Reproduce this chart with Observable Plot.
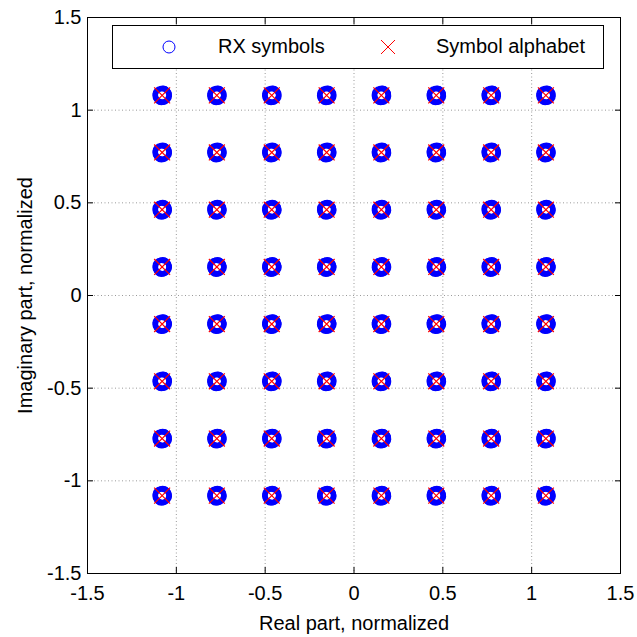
<!DOCTYPE html>
<html>
<head>
<meta charset="utf-8">
<script src="https://cdn.jsdelivr.net/npm/d3@7"></script>
<script src="https://cdn.jsdelivr.net/npm/@observablehq/plot@0.6"></script>
<style>
  body { margin: 0; background: white; }
  #wrap { position: relative; width: 637px; height: 637px; font-family: "Liberation Sans", Arial, sans-serif; }
  #legend { position: absolute; left: 112px; top: 25px; width: 490px; height: 42px; border: 1px solid black; background: white; font-size: 20px; }
  #legend span { position: absolute; top: 9px; white-space: nowrap; }
  #legend svg { position: absolute; left: 0; top: 0; }
</style>
</head>
<body>
<div id="wrap"></div>
<script>
// 64-QAM symbol alphabet levels (normalized)
const levels = [-1.080, -0.772, -0.463, -0.154, 0.154, 0.463, 0.772, 1.080];
// small receive-noise spread around each alphabet point
const rxNoiseRe = [0.000, 0.011, -0.010, 0.005, -0.007, 0.012, -0.011, 0.003, 0.008, -0.004];
const rxNoiseIm = [0.000, 0.004, 0.007, -0.010, -0.008, -0.003, -0.002, 0.011, 0.009, -0.012];
const axisTicks = [-1.5, -1, -0.5, 0, 0.5, 1, 1.5];
const gridTicks = [-1, -0.5, 0, 0.5, 1];
const legendLabels = ["RX symbols", "Symbol alphabet"];

const alphabet = [];
for (const im of levels) for (const re of levels) alphabet.push({re, im});
const rx = [];
for (const p of alphabet) rxNoiseRe.forEach((dr, i) => rx.push({re: p.re + dr, im: p.im + rxNoiseIm[i]}));

const fmt = d => String(d);
const gridStyle = {stroke: "#9a9a9a", strokeOpacity: 1, strokeDasharray: "1,2.5"};

const chart = Plot.plot({
  width: 637, height: 637,
  marginLeft: 87, marginRight: 17, marginTop: 17, marginBottom: 64,
  style: {fontFamily: "Liberation Sans, Arial, sans-serif", fontSize: "20px", background: "white", color: "black"},
  x: {domain: [-1.5, 1.5]},
  y: {domain: [-1.5, 1.5]},
  marks: [
    Plot.gridX(gridTicks, gridStyle),
    Plot.gridY(gridTicks, gridStyle),
    Plot.axisX(axisTicks, {anchor: "bottom", tickSize: 0, tickPadding: 12, tickFormat: fmt, label: "Real part, normalized", labelAnchor: "center", labelArrow: false, labelOffset: 56, fontSize: 20}),
    Plot.axisY(axisTicks, {anchor: "left", tickSize: 0, tickPadding: 6, tickFormat: fmt, label: "Imaginary part, normalized", labelAnchor: "center", labelArrow: false, labelOffset: 70, fontSize: 20}),
    Plot.axisX(axisTicks, {anchor: "bottom", tickSize: -6, tickFormat: () => "", label: null}),
    Plot.axisX(axisTicks, {anchor: "top", tickSize: -6, tickFormat: () => "", label: null}),
    Plot.axisY(axisTicks, {anchor: "left", tickSize: -6, tickFormat: () => "", label: null}),
    Plot.axisY(axisTicks, {anchor: "right", tickSize: -6, tickFormat: () => "", label: null}),
    Plot.dot(rx, {x: "re", y: "im", r: 7, stroke: "#0000ff", strokeWidth: 1.6, fill: "none"}),
    Plot.dot(alphabet, {x: "re", y: "im", symbol: "times", r: 7.3, stroke: "#ff0000", strokeWidth: 1.2}),
    Plot.frame({stroke: "black", strokeWidth: 1})
  ]
});

const wrap = document.getElementById("wrap");
wrap.appendChild(chart);

const legend = document.createElement("div");
legend.id = "legend";
legend.innerHTML = `
  <svg width="490" height="42">
    <circle cx="56" cy="21" r="6" fill="none" stroke="#0000ff" stroke-width="1"/>
    <path d="M268,14L282,28M268,28L282,14" stroke="#ff0000" stroke-width="1" fill="none"/>
  </svg>
  <span style="left:105px">${legendLabels[0]}</span>
  <span style="left:323px">${legendLabels[1]}</span>`;
wrap.appendChild(legend);
</script>
</body>
</html>
